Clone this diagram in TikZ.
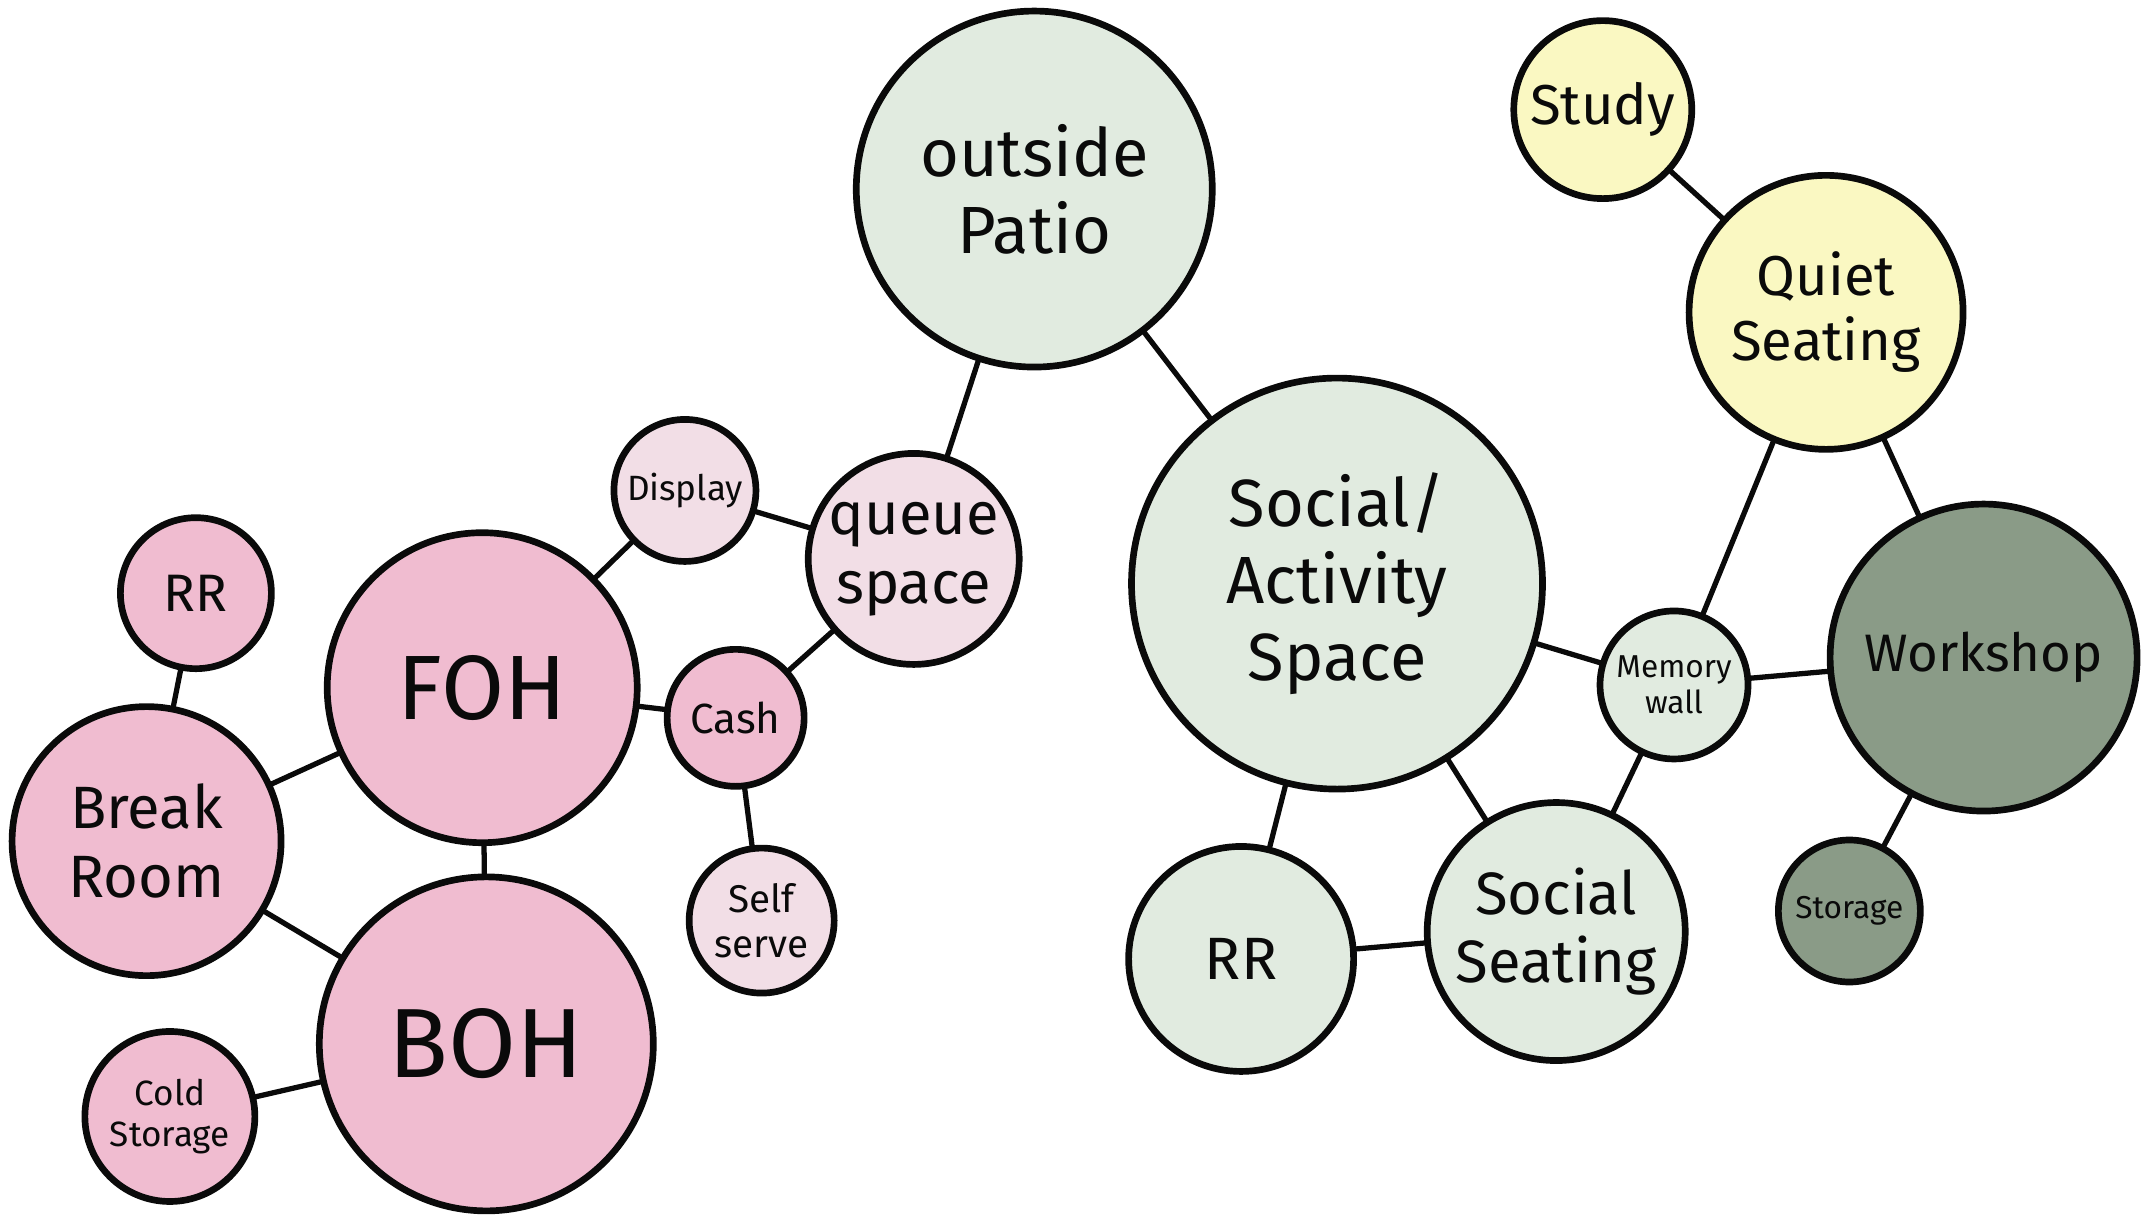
\documentclass[tikz,border=0pt]{standalone}
\usepackage{fontspec}
\setmainfont{Fira Sans}
\usepackage{tikz}
\usetikzlibrary{positioning}
\definecolor{hotpink}{HTML}{F0BCD0}
\definecolor{palepink}{HTML}{F2DEE6}
\definecolor{sage}{HTML}{E1EBE0}
\definecolor{butter}{HTML}{FAF8C2}
\definecolor{moss}{HTML}{8A9B87}
\definecolor{ink}{HTML}{0A0A0A}
\newcommand{\fsz}[1]{\fontsize{#1}{1.15\dimexpr#1pt\relax}\selectfont}
\tikzset{
  bubble/.style={circle,draw=ink,line width=1.9pt,align=center,inner sep=0pt,text=ink},
  pinkbub/.style={bubble,fill=hotpink},
  lightbub/.style={bubble,fill=palepink},
  sagebub/.style={bubble,fill=sage},
  yellowbub/.style={bubble,fill=butter},
  mossbub/.style={bubble,fill=moss},
  link/.style={draw=ink,line width=1.5pt,line cap=round}
}
\begin{document}
\begin{tikzpicture}[x=0.137mm,y=-0.137mm]
\useasboundingbox (0,0) rectangle (1568,892);
% front of house cluster
\node[pinkbub,minimum size=31.0mm,font=\fsz{26}] (foh) at (352,502) {FOH};
\node[pinkbub,minimum size=33.4mm,font=\fsz{28}] (boh) at (355,762) {BOH};
\node[pinkbub,minimum size=26.9mm,font=\fsz{17}] (brk) at (107,614) {Break\\Room};
\node[pinkbub,minimum size=15.1mm,font=\fsz{15}] (rrl) at (143,433) {RR};
\node[pinkbub,minimum size=17.0mm,font=\fsz{10}] (cold) at (124,815) {Cold\\Storage};
\node[pinkbub,minimum size=13.7mm,font=\fsz{12}] (cash) at (537,524) {Cash};
\node[lightbub,minimum size=14.2mm,font=\fsz{10}] (disp) at (500,358) {Display};
\node[lightbub,minimum size=21.1mm,font=\fsz{17}] (queue) at (667,408) {queue\\space};
\node[lightbub,minimum size=14.5mm,font=\fsz{11}] (self) at (556,672) {Self\\serve};
% social side
\node[sagebub,minimum size=35.6mm,font=\fsz{19}] (patio) at (755,138) {outside\\Patio};
\node[sagebub,minimum size=41.1mm,font=\fsz{19}] (soc) at (976,426) {Social/\\Activity\\Space};
\node[sagebub,minimum size=22.5mm,font=\fsz{17}] (rrr) at (906,700) {RR};
\node[sagebub,minimum size=25.8mm,font=\fsz{17}] (seat) at (1136,680) {Social\\Seating};
\node[sagebub,minimum size=14.8mm,font=\fsz{9}] (mem) at (1222,500) {Memory\\wall};
\node[yellowbub,minimum size=17.8mm,font=\fsz{16}] (study) at (1170,80) {Study};
\node[yellowbub,minimum size=27.4mm,font=\fsz{16}] (quiet) at (1333,228) {Quiet\\Seating};
\node[mossbub,minimum size=30.7mm,font=\fsz{15}] (shop) at (1448,480) {Workshop};
\node[mossbub,minimum size=14.2mm,font=\fsz{9}] (store) at (1350,665) {Storage};
% links
\draw[link] (rrl) -- (brk);
\draw[link] (brk) -- (foh);
\draw[link] (brk) -- (boh);
\draw[link] (foh) -- (boh);
\draw[link] (cold) -- (boh);
\draw[link] (foh) -- (disp);
\draw[link] (foh) -- (cash);
\draw[link] (disp) -- (queue);
\draw[link] (queue) -- (cash);
\draw[link] (cash) -- (self);
\draw[link] (queue) -- (patio);
\draw[link] (patio) -- (soc);
\draw[link] (soc) -- (rrr);
\draw[link] (soc) -- (seat);
\draw[link] (soc) -- (mem);
\draw[link] (rrr) -- (seat);
\draw[link] (seat) -- (mem);
\draw[link] (mem) -- (shop);
\draw[link] (mem) -- (quiet);
\draw[link] (study) -- (quiet);
\draw[link] (quiet) -- (shop);
\draw[link] (shop) -- (store);
\end{tikzpicture}
\end{document}
